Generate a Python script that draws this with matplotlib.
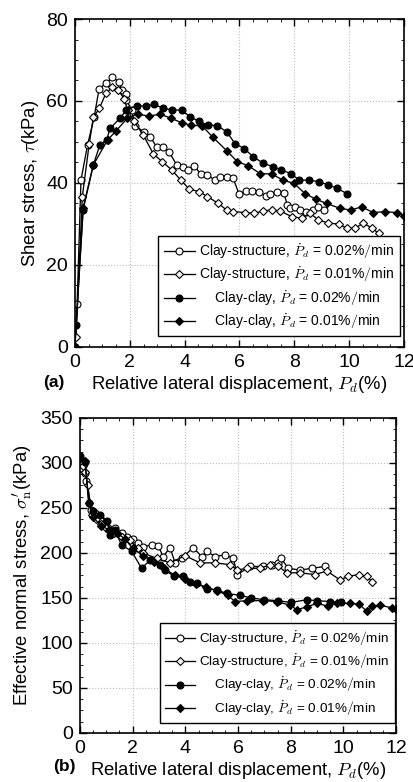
import matplotlib
matplotlib.use("Agg")
import matplotlib.pyplot as plt
from matplotlib.ticker import MultipleLocator

plt.rcParams['font.family'] = ['Liberation Sans', 'DejaVu Sans']
plt.rcParams['mathtext.fontset'] = 'cm'

# ---------------- (a) shear stress ----------------
a_cs02_x = [0, 0.08, 0.22, 0.46, 0.70, 0.88, 1.13, 1.36, 1.60, 1.70, 1.86, 1.88, 2.07, 2.19, 2.52, 2.74, 2.98, 3.22,
            3.44, 3.71, 3.93, 4.11, 4.35, 4.58, 4.82, 5.10, 5.29, 5.53, 5.77, 5.99, 6.23, 6.47, 6.71, 6.96, 7.12,
            7.36, 7.62, 7.74, 7.84, 8.02, 8.21, 8.42, 8.69, 8.88, 9.08]
a_cs02_y = [0, 10.5, 40.7, 49.3, 56.0, 63.0, 64.3, 65.8, 64.7, 62.8, 61.7, 60.2, 57.8, 53.9, 52.5, 51.3, 48.8, 48.8,
            47.5, 44.4, 43.8, 43.2, 44.2, 42.2, 42.0, 40.7, 41.5, 41.5, 41.1, 37.2, 38.1, 38.1, 37.9, 36.8, 37.2,
            37.9, 37.6, 34.6, 33.8, 34.1, 33.4, 33.0, 33.4, 34.2, 33.4]

a_cs01_x = [0, 0.04, 0.27, 0.52, 0.67, 0.89, 1.13, 1.36, 1.56, 1.79, 1.92, 2.16, 2.49, 2.86, 3.18, 3.53, 3.86, 4.17,
            4.53, 4.83, 5.23, 5.53, 5.77, 6.20, 6.53, 6.87, 7.17, 7.48, 7.90, 8.27, 8.57, 8.88, 9.24, 9.61, 9.91,
            10.21, 10.52, 10.83, 11.07]
a_cs01_y = [0, 2.5, 36.7, 49.5, 56.0, 58.2, 61.9, 63.3, 62.8, 60.6, 57.8, 55.0, 51.7, 47.1, 45.2, 43.2, 40.7, 38.5,
            37.9, 36.7, 35.0, 33.4, 33.0, 32.8, 32.6, 33.2, 33.4, 33.2, 31.8, 31.4, 32.6, 31.0, 30.2, 30.0, 29.0,
            29.0, 30.2, 29.0, 27.7]

a_cc02_x = [0, 0.04, 0.30, 0.67, 0.91, 1.16, 1.28, 1.64, 1.88, 2.25, 2.58, 2.89, 3.22, 3.55, 3.89, 4.19, 4.53, 4.86,
            5.19, 5.53, 5.84, 6.17, 6.50, 6.87, 7.21, 7.51, 7.87, 8.18, 8.53, 8.91, 9.24, 9.57, 9.91]
a_cc02_y = [0, 5.4, 33.5, 44.4, 49.3, 50.6, 53.3, 55.8, 57.8, 58.8, 58.8, 59.2, 58.2, 57.8, 57.8, 56.2, 55.0, 54.1,
            54.0, 52.5, 49.6, 48.4, 46.4, 44.8, 44.0, 43.2, 42.3, 40.7, 40.7, 40.3, 39.5, 38.7, 37.4]

a_cc01_x = [0, 0.30, 0.67, 1.19, 1.50, 1.91, 2.29, 2.70, 3.10, 3.50, 3.89, 4.23, 4.64, 5.04, 5.53, 5.92, 6.32, 6.75,
            7.17, 7.58, 7.99, 8.39, 8.80, 9.18, 9.67, 10.06, 10.46, 10.86, 11.29, 11.73, 11.98]
a_cc01_y = [0, 34.0, 44.4, 50.5, 52.7, 55.8, 56.8, 56.3, 56.8, 55.8, 54.7, 54.1, 53.9, 51.1, 47.9, 45.2, 44.2, 42.3,
            42.2, 40.7, 39.9, 37.4, 36.0, 35.0, 33.8, 33.4, 34.2, 32.8, 33.0, 32.8, 32.0]

# ---------------- (b) effective normal stress ----------------
b_cs02_x = [0, 0.06, 0.19, 0.25, 0.44, 0.57, 0.76, 1.07, 1.33, 1.58, 1.77, 2.03, 2.21, 2.40, 2.72, 2.97, 3.16, 3.42,
            3.61, 3.86, 4.30, 4.62, 4.81, 5.13, 5.51, 5.82, 5.97, 6.46, 6.96, 7.30, 7.53, 7.63, 7.91, 8.35, 8.80, 9.30]
b_cs02_y = [302, 294, 289, 280, 248, 244, 239, 228, 228, 222, 218, 215, 211, 207, 209, 208, 196, 206,
            189, 194, 206, 196, 202, 196, 198, 194, 176, 185, 185, 187, 189, 194, 183, 181, 183, 185]

b_cs01_x = [0, 0.10, 0.20, 0.30, 0.45, 0.60, 0.80, 1.00, 1.30, 1.60, 1.90, 2.20, 2.40, 2.91, 3.42, 3.99, 4.56, 5.13,
            5.70, 5.97, 6.33, 6.84, 7.22, 7.53, 7.85, 8.35, 8.92, 9.37, 9.87, 10.19, 10.57, 10.89, 11.08]
b_cs01_y = [300, 297, 290, 275, 242, 238, 232, 228, 222, 218, 214, 205, 200, 194, 189, 197, 189, 189,
            187, 181, 183, 183, 187, 185, 178, 178, 176, 180, 170, 174, 176, 174, 168]

b_cc02_x = [0, 0.19, 0.35, 0.48, 0.76, 1.04, 1.14, 1.33, 1.58, 1.96, 2.34, 2.66, 3.04, 3.23, 3.57, 3.90, 4.18, 4.43,
            4.81, 5.19, 5.57, 6.08, 6.50, 7.00, 7.50, 8.00, 8.60, 9.00, 9.50, 9.90]
b_cc02_y = [308, 301, 255, 247, 242, 235, 220, 225, 209, 202, 183, 192, 187, 181, 174, 174, 168, 167,
            160, 159, 155, 153, 150, 148, 147, 145, 148, 147, 146, 145]

b_cc01_x = [0, 0.20, 0.33, 0.50, 0.80, 1.10, 1.40, 1.70, 2.00, 2.40, 2.80, 3.20, 3.60, 4.00, 4.40, 4.80, 5.20, 5.60,
            5.89, 6.33, 6.96, 7.47, 7.97, 8.23, 8.60, 8.99, 9.40, 9.75, 10.25, 10.60, 10.89, 11.10, 11.39, 11.84, 12.0]
b_cc01_y = [306, 302, 255, 240, 230, 226, 222, 216, 205, 197, 190, 183, 175, 171, 166, 162, 158, 153,
            146, 147, 147, 146, 142, 137, 140, 144, 141, 144, 144, 143, 135, 141, 142, 139, 138]

labels = [r"Clay-structure, $\dot{P}_d$ = 0.02%$/$min",
          r"Clay-structure, $\dot{P}_d$ = 0.01%$/$min",
          r"$\hspace{1.3}$Clay-clay, $\dot{P}_d$ = 0.02%$/$min",
          r"$\hspace{1.3}$Clay-clay, $\dot{P}_d$ = 0.01%$/$min"]
styles = [dict(marker='o', mfc='white'), dict(marker='D', mfc='white', ms=4.3),
          dict(marker='o', mfc='black'), dict(marker='D', mfc='black', ms=4.3)]

fig = plt.figure(figsize=(4.14, 7.82), dpi=100)
ax1 = fig.add_axes([0.181, 0.5563, 0.795, 0.4194])
ax2 = fig.add_axes([0.193, 0.0627, 0.764, 0.4028])

def draw(ax, series, ymax, ymaj, ymin, ylabel, legfs, anchor):
    for (x, y), lab, st in zip(series, labels, styles):
        kw = dict(color='black', lw=0.95, ms=5.0, mec='black', mew=0.8)
        kw.update(st)
        ax.plot(x, y, label=lab, **kw)
    ax.set_xlim(0, 12)
    ax.set_ylim(0, ymax)
    ax.xaxis.set_major_locator(MultipleLocator(2))
    ax.xaxis.set_minor_locator(MultipleLocator(0.5))
    ax.yaxis.set_major_locator(MultipleLocator(ymaj))
    ax.yaxis.set_minor_locator(MultipleLocator(ymin))
    ax.tick_params(which='both', direction='in', top=True, right=True, labelsize=14)
    ax.tick_params(which='major', length=5, width=1, pad=5)
    ax.tick_params(which='minor', length=2.5, width=0.6)
    ax.grid(True, which='major', ls=':', color='#bbbbbb', lw=0.8)
    for s in ax.spines.values():
        s.set_linewidth(1.2)
    ax.set_xlabel(r"Relative lateral displacement, $P_d$(%)", fontsize=13.3, labelpad=2)
    ax.set_ylabel(ylabel, fontsize=13.3, labelpad=4)
    leg = ax.legend(loc='lower right', bbox_to_anchor=anchor, borderaxespad=0, fontsize=legfs,
                    frameon=True, fancybox=False, edgecolor='black', framealpha=1,
                    handlelength=2.2, labelspacing=0.3, handletextpad=0.35, borderpad=0.4)
    leg.get_frame().set_linewidth(1.0)

draw(ax1, [(a_cs02_x, a_cs02_y), (a_cs01_x, a_cs01_y), (a_cc02_x, a_cc02_y), (a_cc01_x, a_cc01_y)],
     80, 20, 5, r"Shear stress, $\tau$(kPa)", 10, (0.988, 0.032))
draw(ax2, [(b_cs02_x, b_cs02_y), (b_cs01_x, b_cs01_y), (b_cc02_x, b_cc02_y), (b_cc01_x, b_cc01_y)],
     350, 50, 12.5, r"Effective normal stress, $\sigma_{\mathrm{n}}^{\prime}$(kPa)", 9.7, (0.995, 0.032))

fig.text(0.105, 1 - 382 / 782, "(a)", fontsize=12.5, fontweight='bold', ha='left', va='center')
fig.text(0.128, 1 - 766 / 782, "(b)", fontsize=12.5, fontweight='bold', ha='left', va='center')

fig.savefig("out.png", dpi=100)
